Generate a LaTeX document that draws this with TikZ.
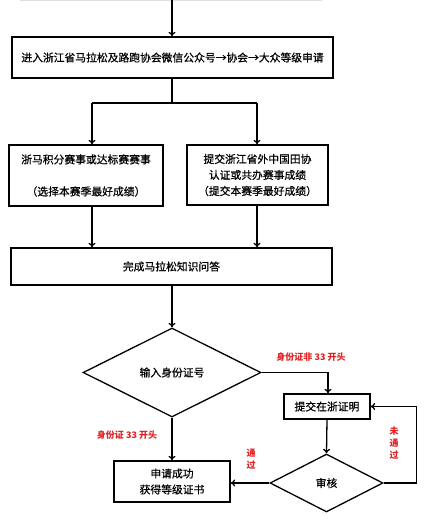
\documentclass[tikz,border=0pt]{standalone}
\usepackage{fontspec}
\newfontfamily\cjk{Noto Sans CJK SC}
\newfontfamily\cjkb[FakeBold=0.6]{Noto Sans CJK SC}
\usetikzlibrary{shapes.geometric,arrows.meta,calc}
\definecolor{lbl}{HTML}{E02222}
\begin{document}
\begin{tikzpicture}[x=1pt,y=-1pt,
  font=\cjkb\fontsize{10.8}{16}\selectfont,
  box/.style={draw,line width=1.3pt,inner sep=0pt,align=center},
  dia/.style={draw,line width=1.3pt,diamond,inner sep=0pt,align=center},
  ln/.style={line width=1.3pt},
  arr/.style={line width=1.3pt,-{To[length=4.5pt,width=7pt]}},
  redlbl/.style={text=lbl,font=\cjk\bfseries\fontsize{9}{12}\selectfont,inner sep=0pt,align=center}]
\useasboundingbox (0,0) rectangle (436,523);
\fill[white] (0,0) rectangle (436,523);
\draw[black!12,line width=0.6pt] (20,0.4) -- (322,0.4);
% nodes
\node[box,minimum width=321pt,minimum height=41pt] (b1) at (172.5,57.5) {进入浙江省马拉松及路跑协会微信公众号→协会→大众等级申请};
\node[box,minimum width=154pt,minimum height=61pt] (bl) at (86,175.5) {浙马积分赛事或达标赛赛事\\[16pt]（选择本赛季最好成绩）};
\node[box,minimum width=141pt,minimum height=60pt] (br) at (257.5,175) {提交浙江省外中国田协\\认证或共办赛事成绩\\（提交本赛季最好成绩）};
\node[box,minimum width=321pt,minimum height=37pt] (b3) at (171.5,266.5) {完成马拉松知识问答};
\node[dia,minimum width=178pt,minimum height=89pt] (d1) at (172,372.5) {输入身份证号};
\node[box,minimum width=86pt,minimum height=25pt] (tj) at (327,406.5) {提交在浙证明};
\node[box,minimum width=116pt,minimum height=41pt] (ok) at (172,481.5) {申请成功\\获得等级证书};
\node[dia,minimum width=113pt,minimum height=58pt] (d2) at (326.5,483) {审核};
% coordinates
\coordinate (top) at (172,0);
\coordinate (split) at (172,103);
\coordinate (jl) at (92,103);
\coordinate (jr) at (257,103);
% connectors
\draw[arr] (top) -- (top |- b1.north);
\draw[ln] (b1.south -| split) -- (split);
\draw[ln] (jl) -- (jr);
\draw[arr] (jl) -- (jl |- bl.north);
\draw[arr] (jr) -- (jr |- br.north);
\draw[arr] (bl.south -| jl) -- (b3.north -| jl);
\draw[arr] (br.south -| jr) -- (b3.north -| jr);
\draw[arr] (b3.south -| d1.north) -- (d1.north);
\draw[arr] (d1.east) -| ($(tj.north)+(1,0)$);
\draw[arr] (d1.south) -- (ok.north);
\draw[arr] (tj.south) -- (d2.north);
\draw[arr] (d2.west) -- (d2.west -| ok.east);
\draw[arr] (d2.east) -- ++(33,0) |- (tj.east);
% labels
\node[redlbl] (l1) at (311,357) {身份证非 33 开头};
\node[redlbl] (l2) at (127,435) {身份证 33 开头};
\node[redlbl] (l3) at (251,459) {通\\过};
\node[redlbl] (l4) at (394,443) {未\\通\\过};
\end{tikzpicture}
\end{document}
